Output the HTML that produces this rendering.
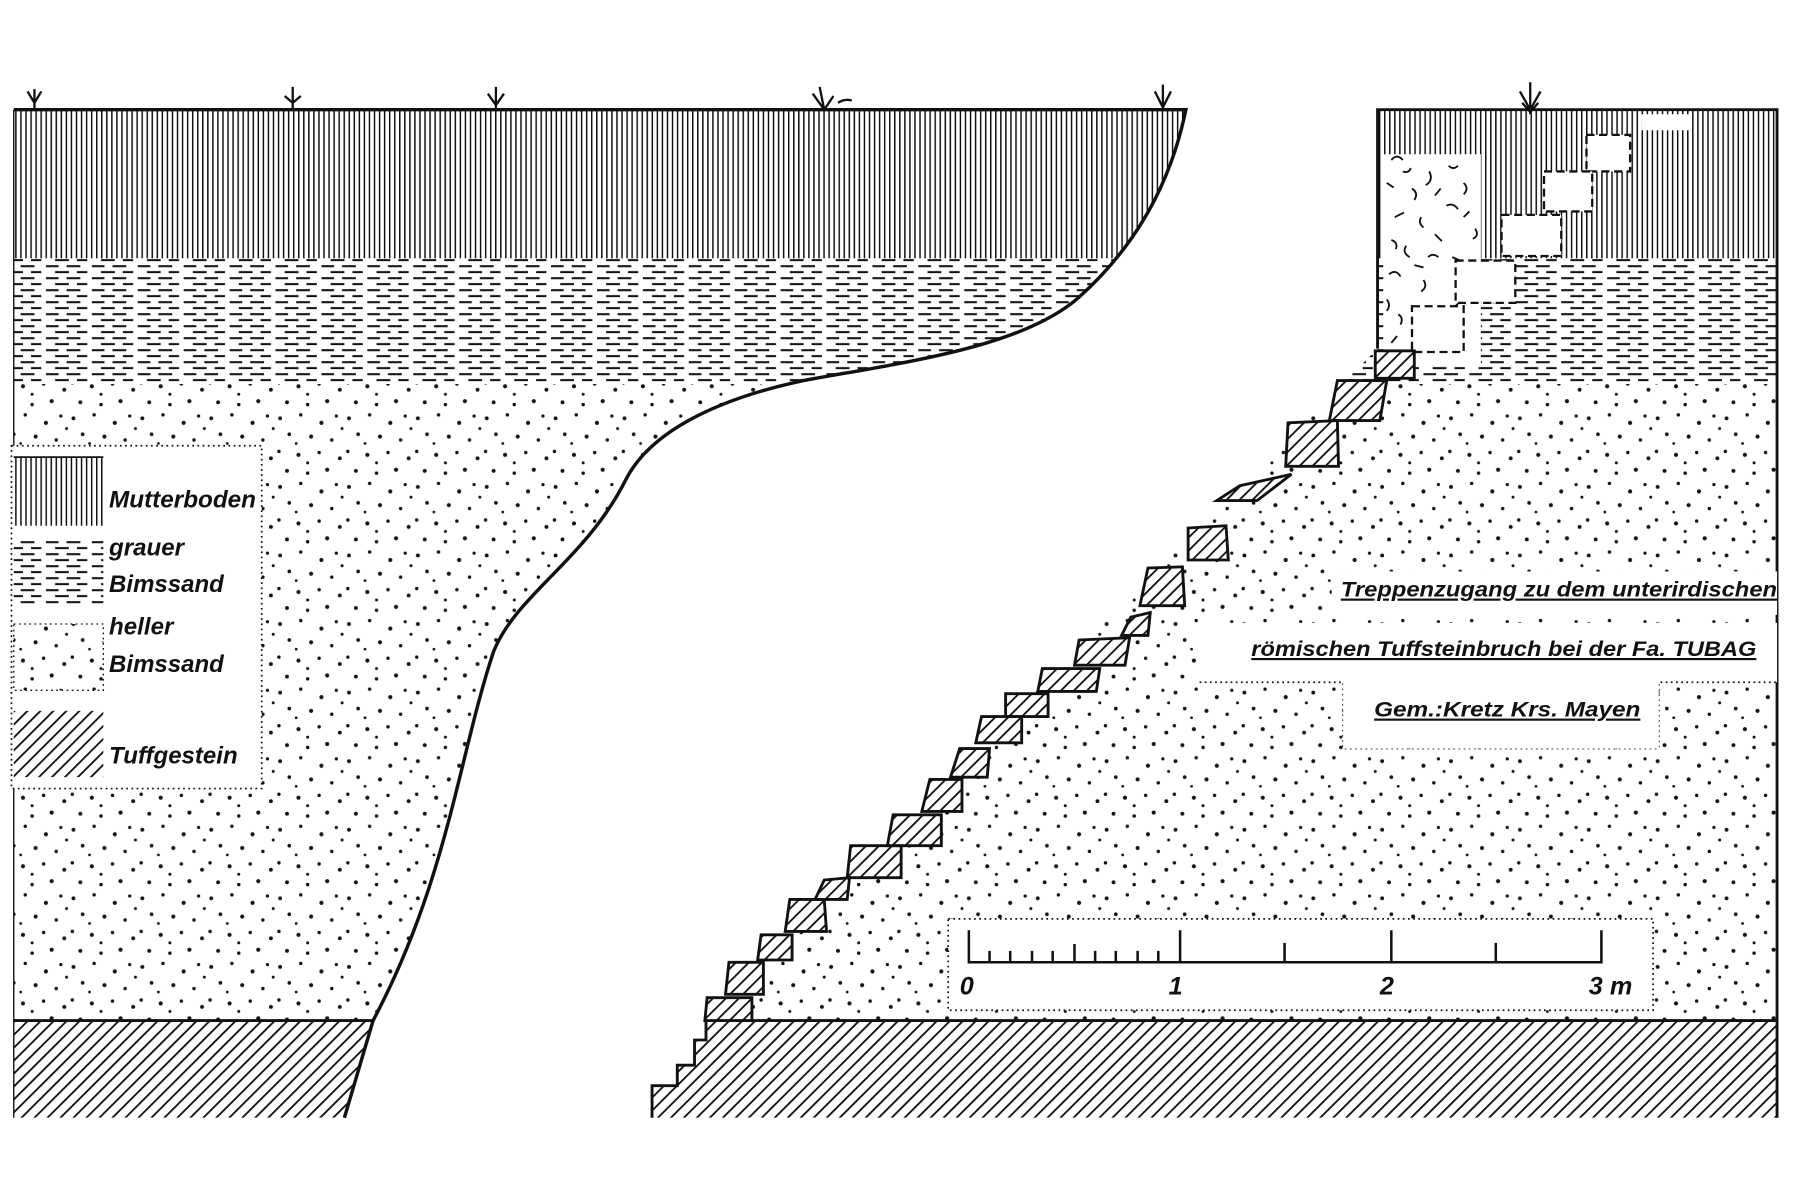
<!DOCTYPE html>
<html><head><meta charset="utf-8"><style>
html,body{margin:0;padding:0;background:#fff;width:1800px;height:1200px;overflow:hidden}
svg{display:block}
text{font-family:"Liberation Sans",sans-serif;font-style:italic;font-weight:bold;fill:#111}
</style></head><body>
<svg width="1800" height="1200" viewBox="0 0 1568 1050" preserveAspectRatio="none" xmlns="http://www.w3.org/2000/svg">
<defs>
<pattern id="vl" width="4.4" height="10" patternUnits="userSpaceOnUse"><rect x="0" y="0" width="1.3" height="10" fill="#111"/></pattern>
<pattern id="dash" width="40" height="10.5" patternUnits="userSpaceOnUse">
<rect x="0" y="1" width="11" height="1.8" fill="#111"/><rect x="18" y="1" width="12" height="1.8" fill="#111"/>
<rect x="8" y="6.2" width="12" height="1.8" fill="#111"/><rect x="27" y="6.2" width="9" height="1.8" fill="#111"/></pattern>
<pattern id="dots" width="60" height="60" patternUnits="userSpaceOnUse" fill="#111">
<circle cx="4" cy="6" r="1.7"/><circle cx="22" cy="3" r="1.5"/><circle cx="40" cy="10" r="1.8"/><circle cx="53" cy="4" r="1.4"/>
<circle cx="12" cy="20" r="1.6"/><circle cx="31" cy="22" r="1.8"/><circle cx="49" cy="25" r="1.5"/><circle cx="58" cy="15" r="1.3"/>
<circle cx="3" cy="35" r="1.5"/><circle cx="20" cy="38" r="1.8"/><circle cx="38" cy="36" r="1.5"/><circle cx="56" cy="41" r="1.7"/><circle cx="28" cy="45" r="1.3"/>
<circle cx="10" cy="52" r="1.7"/><circle cx="28" cy="54" r="1.5"/><circle cx="45" cy="51" r="1.8"/><circle cx="18" cy="28" r="1.2"/></pattern>
<pattern id="hatch" width="8" height="8" patternUnits="userSpaceOnUse" patternTransform="rotate(45)"><rect x="0" y="0" width="1.6" height="8" fill="#111"/></pattern>
<clipPath id="lc"><path d="M12,96 L1033,96 C1020,160 990,215 940,260 C890,305 780,318 700,333 C620,350 565,380 545,420 C510,490 450,520 430,570 C400,660 390,770 325,893 L300,978 L12,978 Z"/></clipPath>
<clipPath id="rc"><path d="M1200,96 L1548,96 L1548,978 L568,978 L568,950 L590,950 L590,932 L605,932 L605,910 L615,910 L615,893 L1200,305 Z"/></clipPath>
<g id="stones">
<rect x="1198" y="307" width="34" height="24"/>
<path d="M1165,333 L1208,333 L1202,368 L1158,368 Z"/>
<path d="M1122,370 L1165,368 L1166,408 L1120,408 Z"/>
<path d="M1060,438 L1080,425 L1125,415 L1095,438 Z"/>
<path d="M1035,462 L1068,460 L1070,490 L1035,490 Z"/>
<path d="M1000,497 L1030,496 L1032,530 L993,530 Z"/>
<path d="M985,540 L1002,536 L1000,556 L977,556 Z"/>
<path d="M940,560 L984,558 L980,582 L936,582 Z"/>
<path d="M908,585 L958,585 L955,605 L904,605 Z"/>
<path d="M876,607 L913,607 L913,627 L876,627 Z"/>
<path d="M855,627 L890,627 L890,650 L850,650 Z"/>
<path d="M836,655 L862,655 L860,680 L828,680 Z"/>
<path d="M810,682 L838,682 L838,710 L803,710 Z"/>
<path d="M778,713 L820,713 L820,740 L773,740 Z"/>
<path d="M741,740 L785,740 L785,768 L738,768 Z"/>
<path d="M718,770 L740,768 L738,787 L710,787 Z"/>
<path d="M688,787 L718,787 L720,815 L684,815 Z"/>
<path d="M663,818 L690,818 L690,840 L660,840 Z"/>
<path d="M635,842 L665,842 L665,870 L632,870 Z"/>
<path d="M616,873 L655,873 L655,893 L614,893 Z"/>
</g>
</defs>
<g clip-path="url(#lc)">
<rect x="0" y="96" width="1568" height="130" fill="url(#vl)"/>
<rect x="0" y="226" width="1568" height="110" fill="url(#dash)"/>
<rect x="0" y="336" width="1568" height="557" fill="url(#dots)"/>
<rect x="0" y="893" width="1568" height="90" fill="url(#hatch)"/>
</g>
<g clip-path="url(#rc)">
<rect x="0" y="96" width="1568" height="130" fill="url(#vl)"/>
<rect x="0" y="226" width="1568" height="110" fill="url(#dash)"/>
<rect x="0" y="336" width="1568" height="557" fill="url(#dots)"/>
<rect x="0" y="893" width="1568" height="90" fill="url(#hatch)"/>
<rect x="1205" y="135" width="85" height="185" fill="#fff"/>
<g stroke="#111" stroke-width="1.6" fill="none">
<path d="M1212,140 q5,-6 10,0 M1230,165 q6,4 2,10 M1215,190 l8,-4 M1245,150 q4,8 -3,12 M1260,180 q6,-3 10,3 M1225,215 q-4,6 3,10 M1250,205 l6,6 M1275,160 q5,5 0,10 M1210,240 q6,-5 10,2 M1240,245 q4,6 -2,10 M1265,225 l7,3 M1285,200 q4,6 -2,9 M1218,275 q5,3 2,9 M1248,280 l6,-5 M1230,300 q5,-4 9,2 M1270,260 q3,5 -3,8 M1208,160 l6,4 M1222,150 q5,2 7,-3 M1238,190 q-3,5 2,9 M1255,165 l-5,6 M1212,210 q6,2 4,8 M1232,232 l8,2 M1208,262 q4,5 0,10 M1262,145 q4,4 8,0 M1280,185 l-5,5 M1212,300 l5,-6 M1244,225 q4,-4 9,0"/>
</g>
</g>
<g fill="#fff" stroke="#111" stroke-width="2" stroke-dasharray="7,4">
<rect x="1382" y="118" width="38" height="32"/><rect x="1345" y="150" width="42" height="35"/><rect x="1308" y="188" width="52" height="36"/><rect x="1268" y="228" width="52" height="37"/><rect x="1230" y="268" width="45" height="40"/>
</g>
<rect x="1430" y="100" width="42" height="14" fill="#fff"/>
<path d="M12,96 L1033,96 C1020,160 990,215 940,260 C890,305 780,318 700,333 C620,350 565,380 545,420 C510,490 450,520 430,570 C400,660 390,770 325,893 L300,978" fill="none" stroke="#111" stroke-width="3"/>
<path d="M12,96 L12,978" stroke="#111" stroke-width="1.2"/>
<path d="M1200,305 L1200,96 L1548,96 L1548,978 M568,978 L568,950 L590,950 L590,932 L605,932 L605,910 L615,910 L615,893 L1548,893 M12,893 L325,893" fill="none" stroke="#111" stroke-width="2.5"/>
<g stroke="#111" stroke-width="2" fill="none">
<path d="M30,96 L30,78 M24,80 L30,90 L36,80 M255,96 L255,76 M248,84 L255,90 L262,84 M432,96 L432,76 M425,82 L432,92 L439,82 M718,96 L714,76 M708,82 L718,96 L726,84 M730,90 q6,-4 12,-2 M1013,96 L1013,74 M1006,80 L1013,94 L1020,80 M1333,100 L1333,72 M1324,80 L1333,96 L1342,80 M1326,90 L1333,98 L1340,90"/>
</g>
<use href="#stones" fill="#fff" stroke="none"/>
<use href="#stones" fill="url(#hatch)" stroke="#111" stroke-width="2.5"/>
<rect x="10" y="390" width="218" height="300" fill="#fff" stroke="#111" stroke-width="1.5" stroke-dasharray="1.5,3"/>
<rect x="12" y="400" width="78" height="60" fill="url(#vl)"/><path d="M12,400 H90" stroke="#111" stroke-width="1.5"/>
<rect x="12" y="473" width="78" height="55" fill="url(#dash)"/>
<rect x="12" y="546" width="78" height="58" fill="url(#dots)" stroke="#111" stroke-width="1.2" stroke-dasharray="1.5,3"/>
<rect x="12" y="622" width="78" height="58" fill="url(#hatch)"/>
<g font-size="21">
<text x="95" y="444" textLength="128" lengthAdjust="spacingAndGlyphs">Mutterboden</text>
<text x="95" y="486">grauer</text>
<text x="95" y="518" textLength="100" lengthAdjust="spacingAndGlyphs">Bimssand</text>
<text x="95" y="555">heller</text>
<text x="95" y="588" textLength="100" lengthAdjust="spacingAndGlyphs">Bimssand</text>
<text x="95" y="668" textLength="112" lengthAdjust="spacingAndGlyphs">Tuffgestein</text>
</g>
<rect x="1160" y="500" width="388" height="38" fill="#fff"/>
<rect x="1045" y="545" width="503" height="52" fill="#fff"/>
<path d="M1045,597 H1170 V655 H1445 V597 H1548" fill="none" stroke="#111" stroke-width="1.5" stroke-dasharray="1.5,3"/>
<rect x="1170" y="597" width="275" height="58" fill="#fff"/>
<g font-size="19" font-weight="normal">
<text x="1168" y="522" textLength="380" lengthAdjust="spacingAndGlyphs" style="text-decoration:underline">Treppenzugang  zu dem  unterirdischen</text>
<text x="1090" y="574" textLength="440" lengthAdjust="spacingAndGlyphs" style="text-decoration:underline">römischen  Tuffsteinbruch  bei  der Fa.  TUBAG</text>
<text x="1197" y="627" textLength="232" lengthAdjust="spacingAndGlyphs" style="text-decoration:underline">Gem.:Kretz  Krs. Mayen</text>
</g>
<rect x="826" y="804" width="614" height="80" fill="#fff" stroke="#111" stroke-width="1.5" stroke-dasharray="1.5,3"/>
<g stroke="#111" stroke-width="2.2" fill="none">
<path d="M844,814 V842 H1395 V814 M1028,814 V842 M1212,814 V842 M1119,825 V842 M1303,825 V842"/>
<path d="M862,832 V842 M880,832 V842 M899,832 V842 M917,832 V842 M936,826 V842 M954,832 V842 M972,832 V842 M991,832 V842 M1009,832 V842"/>
</g>
<g font-size="22" font-weight="normal"><text x="836" y="870">0</text><text x="1018" y="870">1</text><text x="1202" y="870">2</text><text x="1384" y="870">3 m</text></g>
</svg>
</body></html>
